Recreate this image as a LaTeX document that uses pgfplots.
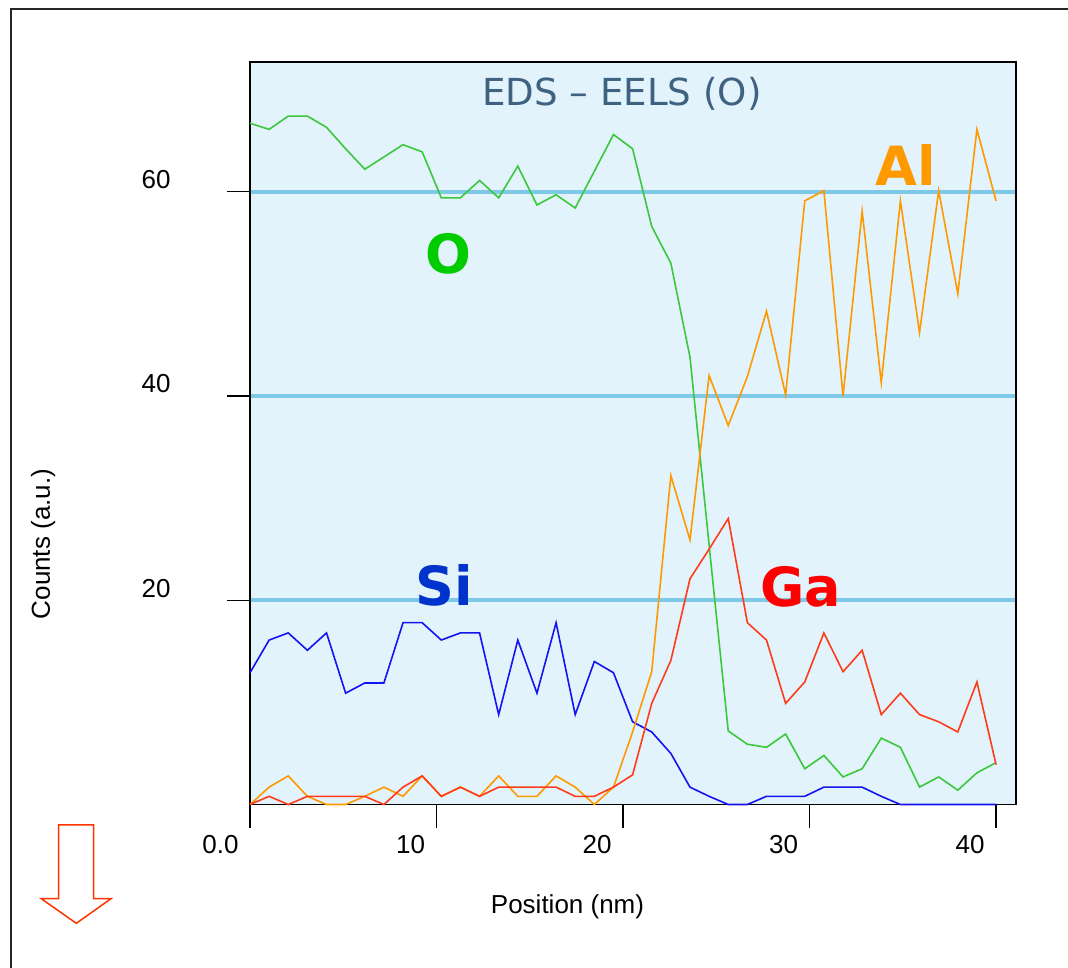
\documentclass[border=0pt]{standalone}
\usepackage{pgfplots}
\pgfplotsset{compat=1.18}
\usepackage{fontspec}
\setmainfont{Liberation Sans}
\newfontfamily\dejavu{DejaVu Sans}
\definecolor{bgblue}{HTML}{E2F3FB}
\definecolor{gridblue}{HTML}{7EC8E8}
\definecolor{oline}{HTML}{3CC83C}
\definecolor{olab}{HTML}{00CC00}
\definecolor{alcol}{HTML}{FF9900}
\definecolor{siline}{HTML}{1414F0}
\definecolor{silab}{HTML}{0033CC}
\definecolor{galine}{HTML}{FF3B1A}
\definecolor{galab}{HTML}{FF0000}
\definecolor{titcol}{HTML}{3E6280}
\definecolor{arrowred}{HTML}{FF3300}
\begin{document}
\begin{tikzpicture}
\useasboundingbox (0,0) rectangle (534pt,483.5pt);
\draw[line width=0.8pt, black!85] (5.5pt,-2pt) -- (5.5pt,479pt) -- (536pt,479pt);
\draw[line width=0.75pt, arrowred] (29.35pt,71pt) -- (46.85pt,71pt) -- (46.85pt,34.15pt) -- (55.5pt,34.15pt) -- (38.15pt,21.85pt) -- (20.65pt,34.15pt) -- (29.35pt,34.15pt) -- cycle;
\begin{axis}[
  at={(125pt,81.25pt)}, anchor=south west,
  scale only axis, width=383pt, height=371.25pt,
  xmin=0, xmax=41.07, ymin=0, ymax=72.7,
  clip=false,
  axis background/.style={fill=bgblue},
  axis line style={black, line width=0.75pt},
  ymajorgrids, grid style={gridblue, line width=2pt},
  xtick={0,10,20,30,40}, xticklabels={0.0,10,20,30,40},
  ytick={20,40,60},
  tick pos=left, tick align=outside, major tick length=11.5pt,
  tick style={black, line width=0.6pt},
  /pgf/number format/assume math mode=true,
  tick label style={font=\fontsize{13}{13}\selectfont, inner sep=0pt},
  yticklabel style={anchor=east, xshift=-28pt, yshift=6pt},
  xticklabel style={anchor=east, xshift=-5.5pt, yshift=-8.75pt},
  xlabel={Position (nm)}, ylabel={Counts (a.u.)},
  label style={font=\fontsize{13}{13}\selectfont},
  xlabel style={at={(axis description cs:0.4145,-0.138)}, anchor=center},
  ylabel style={at={(axis description cs:-0.2702,0.3508)}, anchor=center, rotate=0},
  every axis plot/.append style={line width=0.8pt, no markers},
]
% O
\addplot[oline] coordinates {
(0,66.7)(1.0256,66.1)(2.0513,67.4)(3.0769,67.4)(4.1026,66.3)(5.1282,64.2)(6.1538,62.2)(7.1795,63.4)(8.2051,64.6)(9.2308,63.9)
(10.2564,59.4)(11.2821,59.4)(12.3077,61.1)(13.3333,59.4)(14.3590,62.5)(15.3846,58.7)(16.4103,59.7)(17.4359,58.4)(18.4615,62.0)(19.4872,65.6)
(20.5128,64.2)(21.5385,56.6)(22.5641,53.0)(23.5897,43.8)(24.6154,25.4)(25.6410,7.2)(26.6667,5.9)(27.6923,5.6)(28.7179,6.9)(29.7436,3.5)
(30.7692,4.8)(31.7949,2.7)(32.8205,3.5)(33.8462,6.5)(34.8718,5.6)(35.8974,1.7)(36.9231,2.7)(37.9487,1.4)(38.9744,3.1)(40.0000,4.1)};
% Si
\addplot[siline] coordinates {
(0,12.9)(1.0256,16.1)(2.0513,16.8)(3.0769,15.1)(4.1026,16.8)(5.1282,10.9)(6.1538,11.9)(7.1795,11.9)(8.2051,17.8)(9.2308,17.8)
(10.2564,16.1)(11.2821,16.8)(12.3077,16.8)(13.3333,8.8)(14.3590,16.1)(15.3846,10.9)(16.4103,17.8)(17.4359,8.8)(18.4615,14.0)(19.4872,12.9)
(20.5128,8.1)(21.5385,7.1)(22.5641,5.0)(23.5897,1.7)(24.6154,0.8)(25.6410,0)(26.6667,0)(27.6923,0.8)(28.7179,0.8)(29.7436,0.8)
(30.7692,1.7)(31.7949,1.7)(32.8205,1.7)(33.8462,0.8)(34.8718,0)(35.8974,0)(36.9231,0)(37.9487,0)(38.9744,0)(40.0000,0)};
% Al
\addplot[alcol] coordinates {
(0,0)(1.0256,1.7)(2.0513,2.8)(3.0769,0.8)(4.1026,0)(5.1282,0)(6.1538,0.8)(7.1795,1.7)(8.2051,0.8)(9.2308,2.8)
(10.2564,0.8)(11.2821,1.7)(12.3077,0.8)(13.3333,2.8)(14.3590,0.8)(15.3846,0.8)(16.4103,2.8)(17.4359,1.7)(18.4615,0)(19.4872,1.7)
(20.5128,7.1)(21.5385,13.0)(22.5641,32.2)(23.5897,25.9)(24.6154,42.0)(25.6410,37.1)(26.6667,41.9)(27.6923,48.3)(28.7179,40.1)(29.7436,59.1)
(30.7692,60.1)(31.7949,40.0)(32.8205,58.1)(33.8462,41.3)(34.8718,59.1)(35.8974,46.2)(36.9231,60.1)(37.9487,50.0)(38.9744,66.1)(40.0000,59.1)};
% Ga
\addplot[galine] coordinates {
(0,0)(1.0256,0.8)(2.0513,0)(3.0769,0.8)(4.1026,0.8)(5.1282,0.8)(6.1538,0.8)(7.1795,0)(8.2051,1.7)(9.2308,2.8)
(10.2564,0.8)(11.2821,1.7)(12.3077,0.8)(13.3333,1.7)(14.3590,1.7)(15.3846,1.7)(16.4103,1.7)(17.4359,0.8)(18.4615,0.8)(19.4872,1.7)
(20.5128,2.9)(21.5385,9.9)(22.5641,14.1)(23.5897,22.1)(24.6154,25.0)(25.6410,28.0)(26.6667,17.8)(27.6923,16.1)(28.7179,9.9)(29.7436,12.0)
(30.7692,16.8)(31.7949,13.0)(32.8205,15.1)(33.8462,8.8)(34.8718,10.9)(35.8974,8.8)(36.9231,8.1)(37.9487,7.1)(38.9744,12.0)(40.0000,3.9)};
\node[anchor=base, text=titcol, font=\dejavu\fontsize{18.6}{18.6}\selectfont] at (axis description cs:0.4856,0.942) {EDS – EELS (O)};
\node[anchor=base, text=olab, font=\dejavu\bfseries\fontsize{27}{27}\selectfont] at (axis cs:10.62,52.0) {O};
\node[anchor=base, text=alcol, font=\dejavu\bfseries\fontsize{27}{27}\selectfont] at (axis cs:35.17,60.6) {Al};
\node[anchor=base, text=silab, font=\dejavu\bfseries\fontsize{27}{27}\selectfont] at (axis cs:10.4,19.46) {Si};
\node[anchor=base, text=galab, font=\dejavu\bfseries\fontsize{27}{27}\selectfont] at (axis cs:29.54,19.36) {Ga};
\end{axis}
\end{tikzpicture}
\end{document}
